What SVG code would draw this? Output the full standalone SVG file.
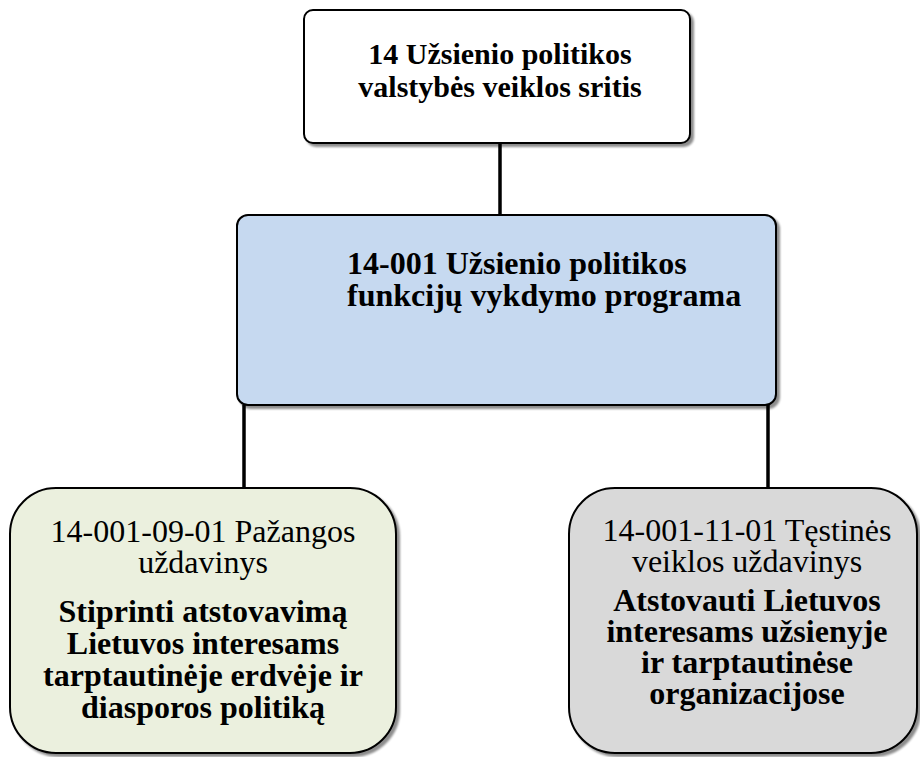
<svg xmlns="http://www.w3.org/2000/svg" width="920" height="757" viewBox="0 0 920 757">
<defs>
<filter id="sh" x="-5%" y="-5%" width="110%" height="110%">
<feGaussianBlur in="SourceAlpha" stdDeviation="1.2"/>
<feOffset dx="3" dy="3" result="b"/>
<feComponentTransfer><feFuncA type="linear" slope="0.45"/></feComponentTransfer>
<feMerge><feMergeNode/><feMergeNode in="SourceGraphic"/></feMerge>
</filter>
<style>
.box{stroke:#000;stroke-width:2;filter:url(#sh)}
.conn{stroke:#000;stroke-width:3.5;fill:none}
.b{font-family:"Liberation Serif","Times New Roman",serif;font-weight:bold;fill:#000}
.r{font-family:"Liberation Serif","Times New Roman",serif;fill:#000}
</style>
</defs>
<rect width="920" height="757" fill="#fff"/>
<g id="connectors">
<line class="conn" x1="500" y1="143" x2="500" y2="215"/>
<line class="conn" x1="244" y1="405" x2="244" y2="488"/>
<line class="conn" x1="768" y1="405" x2="768" y2="488"/>
</g>
<g id="n-area">
<rect class="box" x="304" y="10" width="386" height="133" rx="9" fill="#fff"/>
<text class="b" font-size="30" text-anchor="middle"><tspan x="500" y="64">14 Užsienio politikos</tspan><tspan x="500" y="97">valstybės veiklos sritis</tspan></text>
</g>
<g id="n-program">
<rect class="box" x="237" y="215" width="539" height="190" rx="11" fill="#C6D9F0"/>
<text class="b" font-size="32"><tspan x="347" y="274">14-001 Užsienio politikos</tspan><tspan x="347" y="306">funkcijų vykdymo programa</tspan></text>
</g>
<g id="n-progress">
<rect class="box" x="10" y="488" width="386" height="265" rx="46" fill="#EBF0DE"/>
<text class="r" font-size="32" text-anchor="middle"><tspan x="203" y="542">14-001-09-01 Pažangos</tspan><tspan x="203" y="573">uždavinys</tspan></text>
<text class="b" font-size="32" text-anchor="middle"><tspan x="203" y="622">Stiprinti atstovavimą</tspan><tspan x="203" y="654">Lietuvos interesams</tspan><tspan x="203" y="686">tarptautinėje erdvėje ir</tspan><tspan x="203" y="718">diasporos politiką</tspan></text>
</g>
<g id="n-continuous">
<rect class="box" x="569" y="488" width="348" height="265" rx="46" fill="#D9D9D9"/>
<text class="r" font-size="32" text-anchor="middle"><tspan x="747" y="541">14-001-11-01 Tęstinės</tspan><tspan x="747" y="572">veiklos uždavinys</tspan></text>
<text class="b" font-size="32" text-anchor="middle"><tspan x="747" y="611">Atstovauti Lietuvos</tspan><tspan x="747" y="642">interesams užsienyje</tspan><tspan x="747" y="673">ir tarptautinėse</tspan><tspan x="747" y="704">organizacijose</tspan></text>
</g>
</svg>
